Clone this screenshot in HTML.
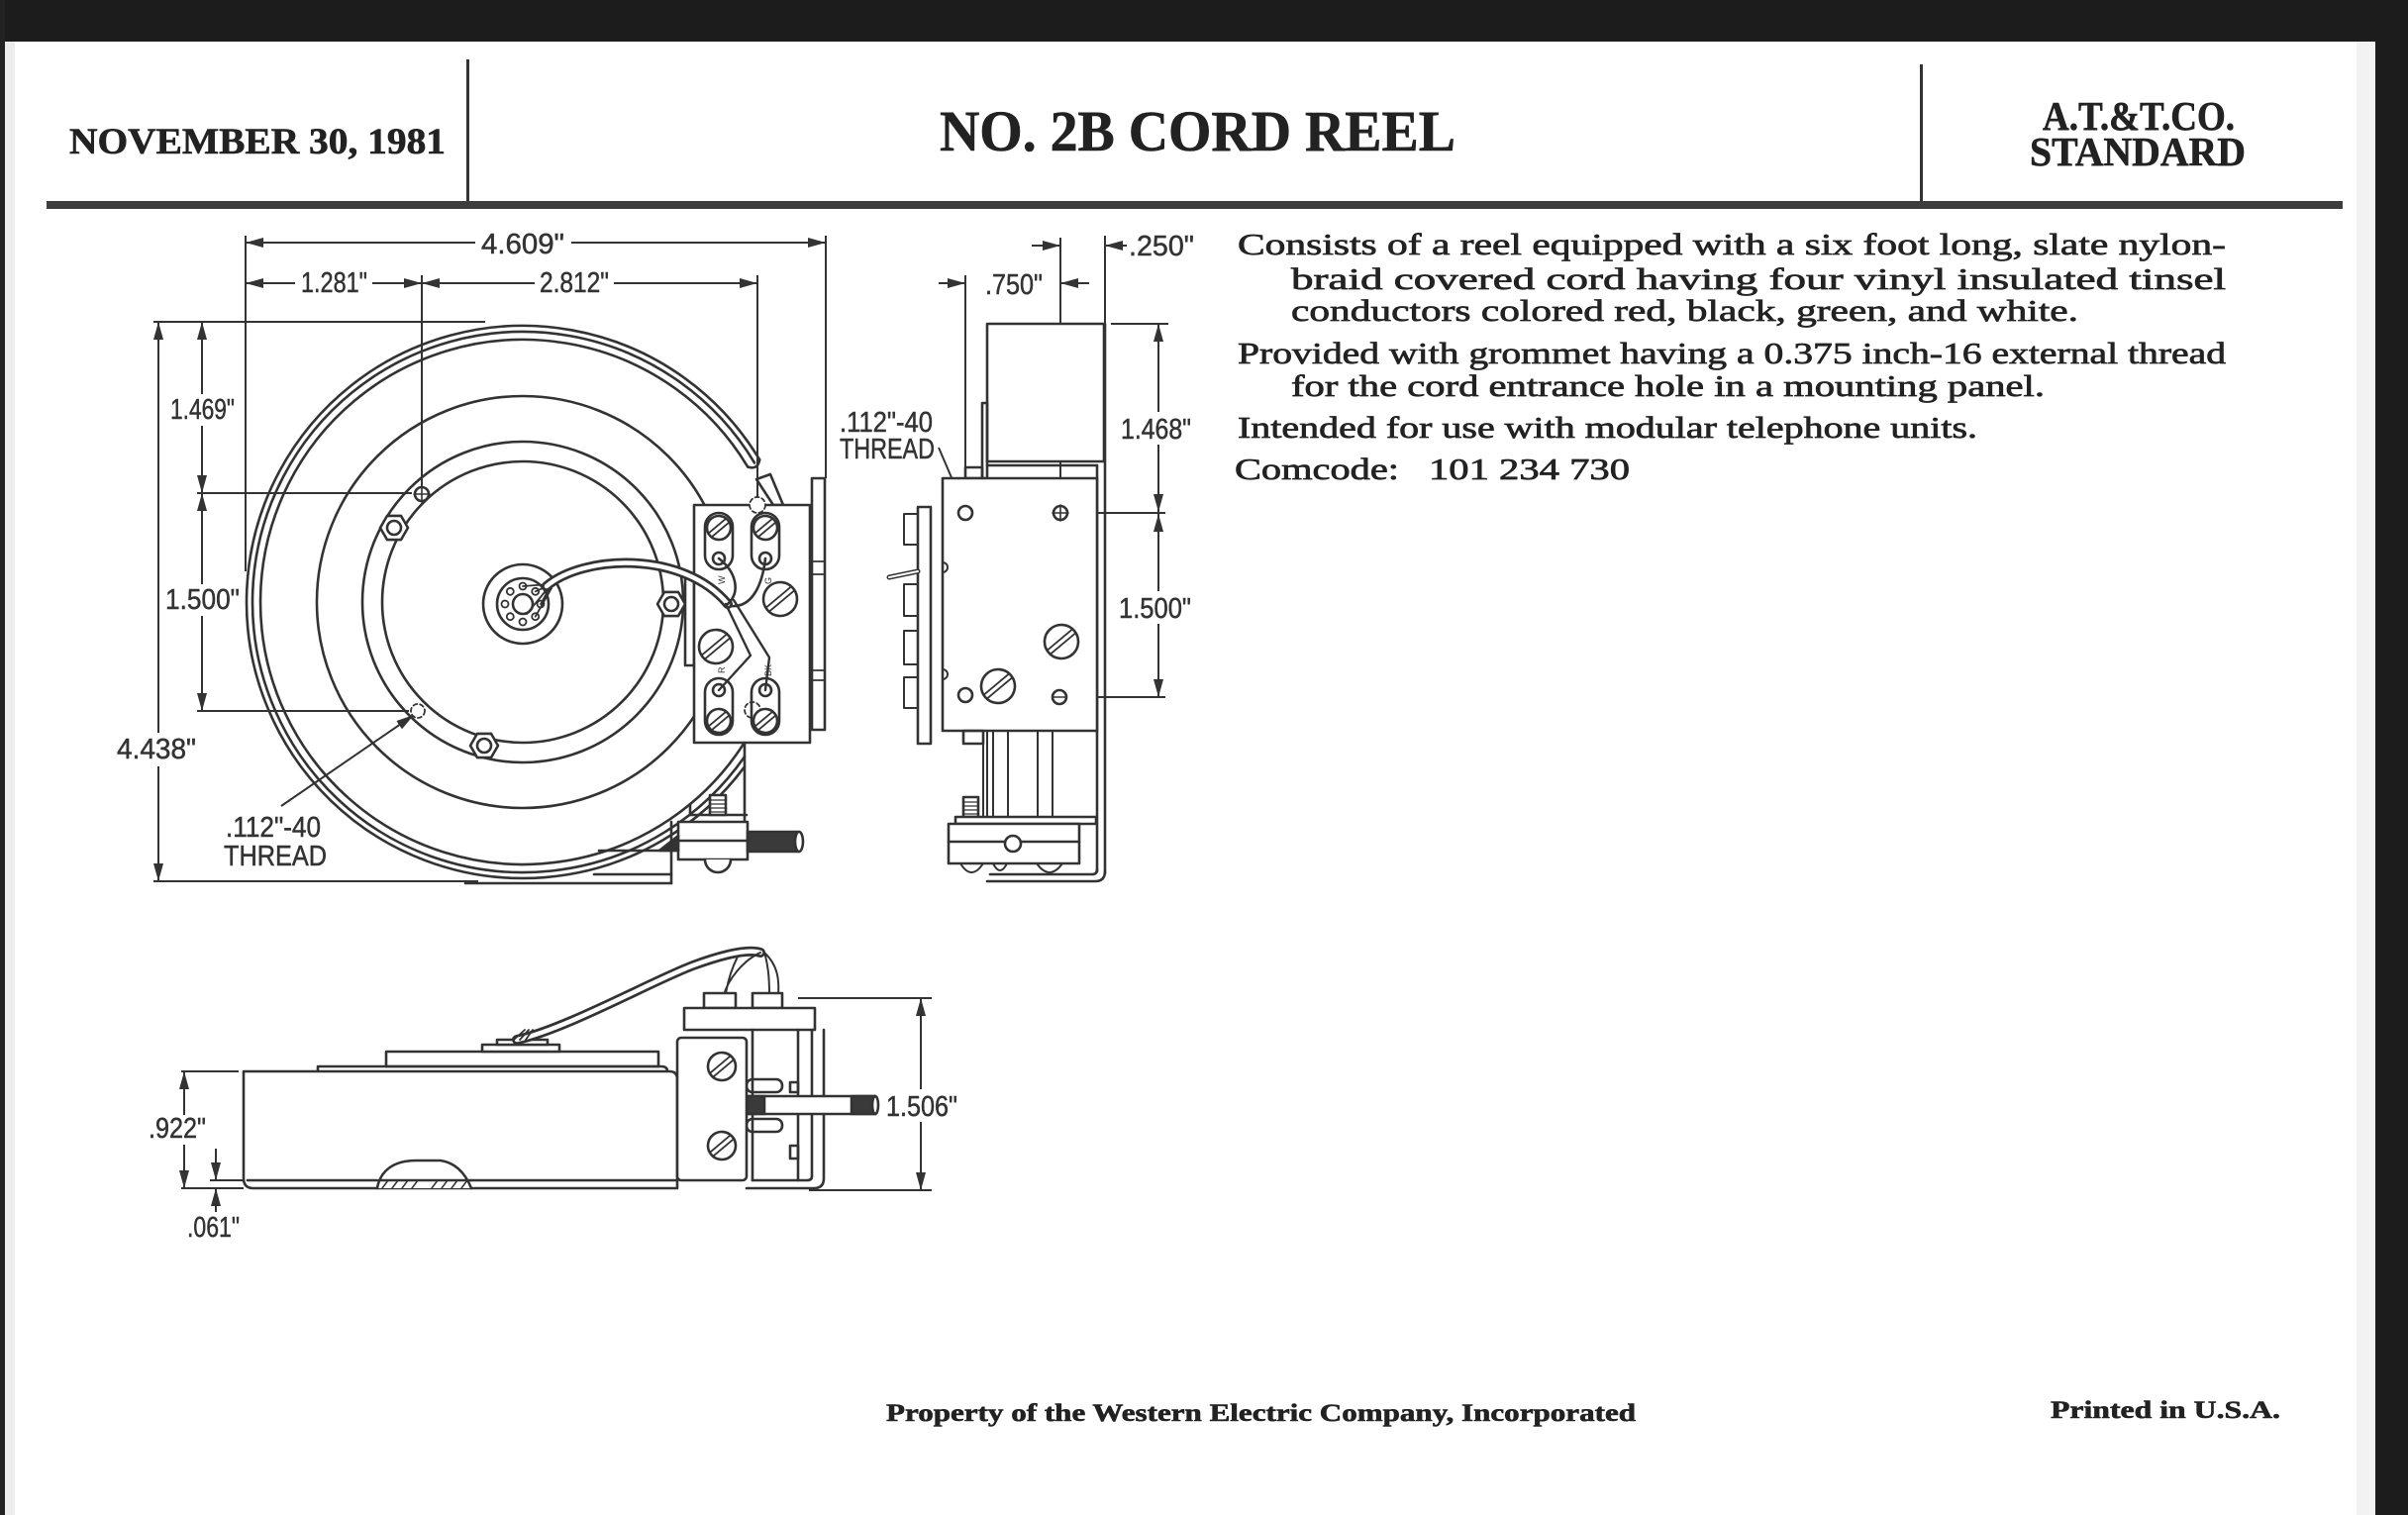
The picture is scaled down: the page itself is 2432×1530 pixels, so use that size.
<!DOCTYPE html>
<html><head><meta charset="utf-8"><style>
html,body{margin:0;padding:0;background:#fff;}
svg{display:block;}
</style></head><body>
<svg width="2432" height="1530" viewBox="0 0 2432 1530" xmlns="http://www.w3.org/2000/svg">
<defs>
<marker id="ah" viewBox="0 0 18 10" refX="18" refY="5" markerWidth="18" markerHeight="10" markerUnits="userSpaceOnUse" orient="auto-start-reverse"><path d="M0,0 L18,5 L0,10 z" fill="#333"/></marker>
</defs>
<rect width="2432" height="1530" fill="#fff"/>
<!-- frame -->
<rect x="0" y="0" width="2432" height="42" fill="#1c1c1c"/>
<rect x="2399" y="0" width="33" height="1530" fill="#1c1c1c"/>
<rect x="2380" y="42" width="19" height="1488" fill="#f2f2f2"/>
<rect x="0" y="0" width="5" height="1530" fill="#222"/>
<rect x="5" y="42" width="10" height="1488" fill="#ececec"/>

<!-- header -->
<rect x="471" y="60" width="3" height="143" fill="#333"/>
<rect x="1939" y="65" width="3" height="140" fill="#333"/>
<rect x="47" y="203" width="2319" height="8" fill="#3c3c3c"/>

<g font-family="'Liberation Serif', serif" font-weight="bold" fill="#222" stroke="#222" stroke-width="0.6">
<text x="70" y="155" font-size="37" textLength="380" lengthAdjust="spacingAndGlyphs">NOVEMBER 30, 1981</text>
<text x="949" y="152" font-size="58" textLength="521" lengthAdjust="spacingAndGlyphs">NO. 2B CORD REEL</text>
<text x="2063" y="131" font-size="41" textLength="194" lengthAdjust="spacingAndGlyphs">A.T.&amp;T.CO.</text>
<text x="2050" y="167" font-size="41" textLength="218" lengthAdjust="spacingAndGlyphs">STANDARD</text>
<text x="895" y="1435" font-size="25" textLength="757" lengthAdjust="spacingAndGlyphs">Property of the Western Electric Company, Incorporated</text>
<text x="2071" y="1432" font-size="25" textLength="232" lengthAdjust="spacingAndGlyphs">Printed in U.S.A.</text>
</g>

<!-- paragraph -->
<g font-family="'Liberation Serif', serif" fill="#222" stroke="#222" stroke-width="0.7" font-size="31">
<text x="1250" y="257" textLength="998" lengthAdjust="spacingAndGlyphs">Consists of a reel equipped with a six foot long, slate nylon-</text>
<text x="1304" y="292" textLength="944" lengthAdjust="spacingAndGlyphs">braid  covered  cord  having  four  vinyl  insulated  tinsel</text>
<text x="1304" y="324" textLength="795" lengthAdjust="spacingAndGlyphs">conductors colored red, black, green, and white.</text>
<text x="1250" y="367" textLength="998" lengthAdjust="spacingAndGlyphs">Provided with grommet having a 0.375 inch-16 external thread</text>
<text x="1304" y="400" textLength="761" lengthAdjust="spacingAndGlyphs">for the cord entrance hole in a mounting panel.</text>
<text x="1250" y="442" textLength="747" lengthAdjust="spacingAndGlyphs">Intended for use with modular telephone units.</text>
<text x="1247" y="484" textLength="166" lengthAdjust="spacingAndGlyphs">Comcode:</text>
<text x="1443" y="484" textLength="203" lengthAdjust="spacingAndGlyphs">101 234 730</text>
</g>

<!-- dimension text -->
<g font-family="'Liberation Sans', sans-serif" fill="#333" stroke="#333" stroke-width="0.5" font-size="29">
<text x="486" y="256" textLength="84" lengthAdjust="spacingAndGlyphs">4.609"</text>
<text x="304" y="295" textLength="67" lengthAdjust="spacingAndGlyphs">1.281"</text>
<text x="545" y="295" textLength="70" lengthAdjust="spacingAndGlyphs">2.812"</text>
<text x="172" y="423" textLength="65" lengthAdjust="spacingAndGlyphs">1.469"</text>
<text x="167" y="615" textLength="75" lengthAdjust="spacingAndGlyphs">1.500"</text>
<text x="118" y="766" textLength="80" lengthAdjust="spacingAndGlyphs">4.438"</text>
<text x="228" y="845" textLength="96" lengthAdjust="spacingAndGlyphs">.112"-40</text>
<text x="226" y="874" textLength="104" lengthAdjust="spacingAndGlyphs">THREAD</text>
<text x="848" y="436" textLength="94" lengthAdjust="spacingAndGlyphs">.112"-40</text>
<text x="848" y="463" textLength="96" lengthAdjust="spacingAndGlyphs">THREAD</text>
<text x="995" y="297" textLength="58" lengthAdjust="spacingAndGlyphs">.750"</text>
<text x="1140" y="258" textLength="66" lengthAdjust="spacingAndGlyphs">.250"</text>
<text x="1132" y="443" textLength="71" lengthAdjust="spacingAndGlyphs">1.468"</text>
<text x="1130" y="624" textLength="73" lengthAdjust="spacingAndGlyphs">1.500"</text>
<text x="150" y="1149" textLength="58" lengthAdjust="spacingAndGlyphs">.922"</text>
<text x="189" y="1249" textLength="53" lengthAdjust="spacingAndGlyphs">.061"</text>
<text x="895" y="1127" textLength="72" lengthAdjust="spacingAndGlyphs">1.506"</text>
</g>

<!-- dimension & extension lines -->
<g fill="none" stroke="#333" stroke-width="2">
<!-- front -->
<line x1="248" y1="238" x2="248" y2="577"/>
<line x1="834" y1="238" x2="834" y2="483"/>
<line x1="426" y1="278" x2="426" y2="506"/>
<line x1="765" y1="278" x2="765" y2="502"/>
<line x1="155" y1="325" x2="490" y2="325"/>
<line x1="155" y1="890" x2="483" y2="890"/>
<line x1="199" y1="498" x2="416" y2="498"/>
<line x1="199" y1="718" x2="413" y2="718"/>
<line x1="248" y1="245" x2="480" y2="245" marker-start="url(#ah)"/>
<line x1="577" y1="245" x2="834" y2="245" marker-end="url(#ah)"/>
<line x1="248" y1="286" x2="298" y2="286" marker-start="url(#ah)"/>
<line x1="376" y1="286" x2="426" y2="286" marker-end="url(#ah)"/>
<line x1="426" y1="286" x2="540" y2="286" marker-start="url(#ah)"/>
<line x1="620" y1="286" x2="765" y2="286" marker-end="url(#ah)"/>
<line x1="160" y1="325" x2="160" y2="740" marker-start="url(#ah)"/>
<line x1="160" y1="774" x2="160" y2="890" marker-end="url(#ah)"/>
<line x1="204" y1="325" x2="204" y2="398" marker-start="url(#ah)"/>
<line x1="204" y1="430" x2="204" y2="498" marker-end="url(#ah)"/>
<line x1="204" y1="498" x2="204" y2="590" marker-start="url(#ah)"/>
<line x1="204" y1="622" x2="204" y2="718" marker-end="url(#ah)"/>
<line x1="284" y1="814" x2="418" y2="722" marker-end="url(#ah)"/>
<!-- side -->
<line x1="975" y1="278" x2="975" y2="507"/>
<line x1="1071" y1="240" x2="1071" y2="510"/>
<line x1="1116" y1="238" x2="1116" y2="327"/>
<line x1="948" y1="286" x2="975" y2="286" marker-end="url(#ah)"/>
<line x1="1100" y1="286" x2="1071" y2="286" marker-end="url(#ah)"/>
<line x1="1042" y1="248" x2="1071" y2="248" marker-end="url(#ah)"/>
<line x1="1138" y1="248" x2="1116" y2="248" marker-end="url(#ah)"/>
<line x1="1122" y1="327" x2="1180" y2="327"/>
<line x1="1087" y1="518" x2="1177" y2="518"/>
<line x1="1087" y1="704" x2="1177" y2="704"/>
<line x1="1170" y1="327" x2="1170" y2="416" marker-start="url(#ah)"/>
<line x1="1170" y1="449" x2="1170" y2="517" marker-end="url(#ah)"/>
<line x1="1170" y1="519" x2="1170" y2="597" marker-start="url(#ah)"/>
<line x1="1170" y1="630" x2="1170" y2="704" marker-end="url(#ah)"/>
<line x1="948" y1="452" x2="972" y2="508" marker-end="url(#ah)"/>
<!-- bottom view -->
<line x1="183" y1="1082" x2="241" y2="1082"/>
<line x1="183" y1="1200" x2="246" y2="1200"/>
<line x1="212" y1="1192" x2="381" y2="1192"/>
<line x1="186" y1="1082" x2="186" y2="1126" marker-start="url(#ah)"/>
<line x1="186" y1="1156" x2="186" y2="1200" marker-end="url(#ah)"/>
<line x1="218" y1="1160" x2="218" y2="1192" marker-end="url(#ah)"/>
<line x1="218" y1="1224" x2="218" y2="1200" marker-end="url(#ah)"/>
<line x1="806" y1="1008" x2="941" y2="1008"/>
<line x1="817" y1="1202" x2="941" y2="1202"/>
<line x1="930" y1="1008" x2="930" y2="1100" marker-start="url(#ah)"/>
<line x1="930" y1="1133" x2="930" y2="1202" marker-end="url(#ah)"/>
</g>

<!-- FRONT VIEW drawing -->
<g fill="none" stroke="#333" stroke-width="2.6" stroke-linecap="round" stroke-linejoin="round">
<path d="M767.2,464.3 A279,279 0 1 0 752,774.3"/>
<path d="M762,467.4 A273,273 0 1 0 752,764.1"/>
<path d="M755.2,471.5 A265,265 0 1 0 752,749.6"/>
<path d="M767.2,464.3 Q765.3,474.8 755.2,471.5"/>
<circle cx="528" cy="608" r="208"/>
<circle cx="528" cy="608" r="162"/>
<circle cx="528" cy="608" r="142"/>
<!-- hub -->
<circle cx="528" cy="610" r="40" fill="#fff"/>
<circle cx="528" cy="610" r="26"/>
<circle cx="528" cy="610" r="10"/>
<g stroke-width="1.8">
<circle cx="546" cy="610" r="3.5"/><circle cx="540.7" cy="622.7" r="3.5"/><circle cx="528" cy="628" r="3.5"/><circle cx="515.3" cy="622.7" r="3.5"/>
<circle cx="510" cy="610" r="3.5"/><circle cx="515.3" cy="597.3" r="3.5"/><circle cx="528" cy="592" r="3.5"/><circle cx="540.7" cy="597.3" r="3.5"/>
<path d="M528,592 L555,590 M540.7,597.3 L555,591 M546,610 L556,592 M540.7,622.7 L557,594 M532,620 L555,592"/>
</g>
<!-- bosses -->
<polygon points="412,533 405,545.1 391,545.1 384,533 391,520.9 405,520.9" fill="#fff"/><circle cx="398" cy="533" r="7"/>
<polygon points="692,610 685,622.1 671,622.1 664,610 671,597.9 685,597.9" fill="#fff"/><circle cx="678" cy="610" r="7"/>
<polygon points="503,753 496,765.1 482,765.1 475,753 482,740.9 496,740.9" fill="#fff"/><circle cx="489" cy="753" r="7"/>
<!-- holes -->
<circle cx="426" cy="499" r="7" fill="#fff"/><path d="M418,499 H434 M426,491 V507" stroke-width="1.6"/>
<circle cx="422" cy="718" r="7" fill="#fff" stroke-dasharray="4 3" stroke-width="1.8"/>
<!-- tab above block -->
<polygon points="764,484 778,479 791,510 781,510" fill="#fff"/>
<!-- block parts -->
<rect x="692" y="583" width="9" height="89" fill="#fff"/>
<rect x="820" y="483" width="13" height="254" fill="#fff"/>
<path d="M820,567 H833 M820,580 H833 M820,677 H833 M820,687 H833" stroke-width="1.8"/>
<rect x="701" y="510" width="117" height="240" fill="#fff"/>
<circle cx="765" cy="510" r="8" fill="#fff" stroke-dasharray="4 3" stroke-width="1.8"/>
<circle cx="760" cy="717" r="8" stroke-dasharray="4 3" stroke-width="1.8"/>
<!-- terminals -->
<rect x="712" y="518" width="28" height="57" rx="14"/>
<rect x="759" y="518" width="28" height="57" rx="14"/>
<rect x="712" y="685" width="28" height="57" rx="14"/>
<rect x="759" y="685" width="28" height="57" rx="14"/>
<g transform="translate(726,533) rotate(-40)"><circle r="12" fill="#fff"/><path d="M-11,-2.5 H11 M-11,2.5 H11" stroke-width="1.8"/></g>
<g transform="translate(773,533) rotate(-40)"><circle r="12" fill="#fff"/><path d="M-11,-2.5 H11 M-11,2.5 H11" stroke-width="1.8"/></g>
<g transform="translate(726,728) rotate(-40)"><circle r="12" fill="#fff"/><path d="M-11,-2.5 H11 M-11,2.5 H11" stroke-width="1.8"/></g>
<g transform="translate(773,728) rotate(-40)"><circle r="12" fill="#fff"/><path d="M-11,-2.5 H11 M-11,2.5 H11" stroke-width="1.8"/></g>
<g transform="translate(788,605) rotate(-40)"><circle r="17" fill="#fff"/><path d="M-16,-2.5 H16 M-16,2.5 H16" stroke-width="1.8"/></g>
<g transform="translate(723,653) rotate(-40)"><circle r="17" fill="#fff"/><path d="M-16,-2.5 H16 M-16,2.5 H16" stroke-width="1.8"/></g>
<circle cx="726" cy="564" r="6"/><circle cx="773" cy="564" r="6"/><circle cx="726" cy="697" r="6"/><circle cx="773" cy="697" r="6"/>
<!-- cord -->
<path d="M552,592 C590,560 690,556 735,610" stroke-width="10"/>
<path d="M552,592 C590,560 690,556 735,610" stroke="#fff" stroke-width="4.5"/>
<path d="M735,610 C748,598 744,578 726,564" stroke-width="2.6"/>
<path d="M738,612 C760,614 770,590 773,564" stroke-width="2.6"/>
<path d="M733,610 L758,662 L726,697" stroke-width="2.4"/>
<path d="M741,606 L777,664 L773,697" stroke-width="2.4"/>
<!-- below block -->
<line x1="752" y1="750" x2="752" y2="830"/>
<line x1="697" y1="812" x2="697" y2="823"/>
<line x1="697" y1="823" x2="754" y2="823"/>
<rect x="717" y="803" width="16" height="20" fill="#fff"/>
<path d="M717,808 H733 M717,812 H733 M717,816 H733 M717,820 H733" stroke-width="1.3"/>
<rect x="685" y="830" width="70" height="38" fill="#fff"/>
<line x1="685" y1="849" x2="755" y2="849"/>
<path d="M712,868 A13,13 0 0 0 738,868" fill="#fff"/>
<rect x="755" y="840" width="52" height="20" fill="#3a3a3a"/>
<ellipse cx="807" cy="850" rx="4" ry="10" fill="#fff"/>
<polygon points="666,859 685,844 685,859" fill="#333"/>
<line x1="605" y1="859" x2="685" y2="859"/>
<line x1="678" y1="830" x2="678" y2="892"/>
<line x1="600" y1="883" x2="678" y2="883"/>
<line x1="470" y1="892" x2="678" y2="892"/>
</g>
<g font-family="'Liberation Sans', sans-serif" font-size="9" fill="#333">
<text transform="translate(732,590) rotate(-90)">W</text>
<text transform="translate(779,590) rotate(-90)">G</text>
<text transform="translate(732,680) rotate(-90)">R</text>
<text transform="translate(779,683) rotate(-90)">BK</text>
</g>

<!-- SIDE VIEW drawing -->
<g fill="none" stroke="#333" stroke-width="2.6" stroke-linecap="round" stroke-linejoin="round">
<rect x="997" y="327" width="118" height="139" fill="#fff"/>
<line x1="997" y1="470" x2="1108" y2="470"/>
<rect x="992" y="407" width="5" height="76"/>
<rect x="975" y="472" width="17" height="11"/>
<line x1="1108" y1="470" x2="1108" y2="880"/>
<line x1="1116" y1="327" x2="1116" y2="882"/>
<path d="M1116,880 Q1116,890 1106,890 L997,890"/>
<path d="M1108,878 Q1108,883 1103,883 L1000,883"/>
<rect x="952" y="483" width="156" height="255" fill="#fff"/>
<path d="M952,568 A5,5 0 0 1 952,578 M952,676 A5,5 0 0 1 952,686" stroke-width="2"/>
<rect x="927" y="512" width="13" height="239" fill="#fff"/>
<path d="M927,519 H913 V550 H927 M927,590 H913 V622 H927 M927,637 H913 V671 H927 M927,684 H913 V715 H927" stroke-width="2"/>
<path d="M898,583 L927,577" stroke-width="5"/>
<path d="M898,583 L927,577" stroke="#fff" stroke-width="2"/>
<path d="M993,738 V825 M997,738 V825 M1003,738 V827 M1018,738 V827 M1048,738 V827 M1063,738 V827" stroke-width="2"/>
<rect x="973" y="738" width="20" height="13"/>
<rect x="973" y="805" width="15" height="20" fill="#fff"/>
<path d="M973,810 H988 M973,814 H988 M973,818 H988 M973,822 H988" stroke-width="1.3"/>
<rect x="965" y="825" width="142" height="7" fill="#fff"/>
<rect x="958" y="832" width="132" height="40" fill="#fff"/>
<line x1="958" y1="850" x2="1090" y2="850"/>
<circle cx="1023" cy="852" r="8" fill="#fff"/>
<path d="M970,872 Q981,890 993,872 M1003,872 Q1010,886 1017,872 M1047,872 Q1060,890 1073,872" stroke-width="2"/>
<circle cx="975" cy="518" r="7"/>
<circle cx="1071" cy="518" r="7" fill="#fff"/><path d="M1063,518 H1079 M1071,510 V526" stroke-width="1.6"/>
<g transform="translate(1072,648) rotate(-40)"><circle r="17" fill="#fff"/><path d="M-16,-2.5 H16 M-16,2.5 H16" stroke-width="1.8"/></g>
<g transform="translate(1008,693) rotate(-40)"><circle r="17" fill="#fff"/><path d="M-16,-2.5 H16 M-16,2.5 H16" stroke-width="1.8"/></g>
<circle cx="975" cy="702" r="7"/>
<circle cx="1070" cy="704" r="7"/><line x1="1063" y1="704" x2="1077" y2="704" stroke-width="1.6"/>
</g>

<!-- BOTTOM VIEW drawing -->
<g fill="none" stroke="#333" stroke-width="2.6" stroke-linecap="round" stroke-linejoin="round">
<rect x="390" y="1062" width="275" height="15" fill="#fff"/>
<rect x="487" y="1055" width="78" height="7" fill="#fff"/>
<rect x="502" y="1050" width="51" height="5" fill="#fff"/>
<path d="M321,1082 V1077 H668 Q674,1077 674,1082"/>
<path d="M246,1082 H676 Q684,1082 684,1090 V1200 H256 Q246,1200 246,1190 Z" fill="#fff"/>
<line x1="250" y1="1192" x2="381" y2="1192"/>
<line x1="476" y1="1192" x2="684" y2="1192"/>
<path d="M381,1200 C384,1182 398,1172 420,1172 L445,1172 C464,1175 472,1190 476,1200" fill="#fff"/>
<path d="M386,1200 L392,1192 M396,1200 L402,1192 M406,1200 L412,1192 M416,1200 L422,1192 M436,1200 L442,1192 M446,1200 L452,1192 M456,1200 L462,1192 M466,1200 L472,1192" stroke-width="1.5"/>
<line x1="383" y1="1192" x2="476" y2="1192"/>
<!-- cord -->
<path d="M522,1050 C570,1040 660,990 700,975 C730,964 755,958 768,962" stroke-width="10"/>
<path d="M522,1050 C570,1040 660,990 700,975 C730,964 755,958 768,962" stroke="#fff" stroke-width="4.5"/>
<path d="M768,962 C750,970 735,990 731,1005 M772,962 C776,975 777,990 777,1003 M772,962 C786,975 787,990 786,1005 M745,966 C738,980 735,992 733,1003" stroke-width="2"/>
<path d="M519,1050 L530,1040 M525,1050 L534,1040 M531,1050 L538,1040" stroke-width="1.8"/>
<!-- bracket -->
<rect x="711" y="1003" width="32" height="15" fill="#fff"/>
<rect x="760" y="1003" width="30" height="15" fill="#fff"/>
<rect x="691" y="1018" width="132" height="22" fill="#fff"/>
<path d="M820,1040 V1188 Q820,1192 815,1192 H760 M832,1040 V1190 Q832,1200 822,1200 H754" />
<line x1="760" y1="1040" x2="760" y2="1192"/>
<line x1="806" y1="1040" x2="806" y2="1192"/>
<rect x="754" y="1090" width="36" height="13" rx="6"/>
<rect x="754" y="1130" width="36" height="13" rx="6"/>
<rect x="798" y="1093" width="8" height="10"/>
<rect x="798" y="1157" width="8" height="13"/>
<rect x="754" y="1107" width="130" height="18" fill="#fff"/>
<rect x="754" y="1107" width="18" height="18" fill="#3a3a3a"/>
<rect x="860" y="1107" width="24" height="18" fill="#3a3a3a"/>
<ellipse cx="884" cy="1116" rx="3" ry="9" fill="#fff"/>
<rect x="684" y="1048" width="70" height="144" rx="4" fill="#fff"/>
<g transform="translate(729,1077) rotate(-40)"><circle r="14" fill="#fff"/><path d="M-13,-2.5 H13 M-13,2.5 H13" stroke-width="1.8"/></g>
<g transform="translate(729,1157) rotate(-40)"><circle r="14" fill="#fff"/><path d="M-13,-2.5 H13 M-13,2.5 H13" stroke-width="1.8"/></g>
</g>
</svg>
</body></html>
